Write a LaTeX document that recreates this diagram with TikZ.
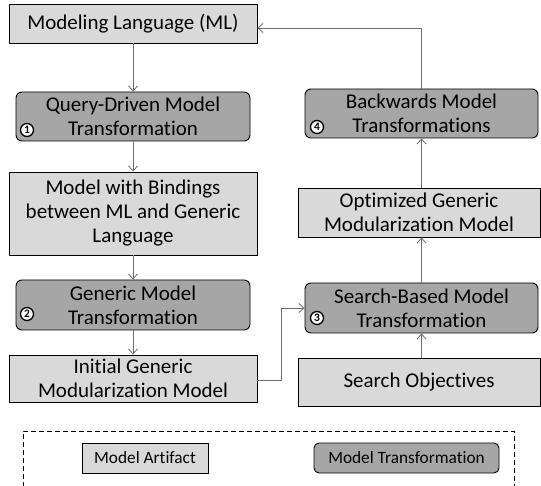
\documentclass[tikz,border=0pt]{standalone}
\usepackage{fontspec}
\setmainfont{Carlito}[Ligatures=CommonOff]
\usetikzlibrary{arrows.meta}
\definecolor{artgray}{HTML}{D9D9D9}
\definecolor{trgray}{HTML}{A6A6A6}
\definecolor{conngray}{HTML}{6E6E6E}
\begin{document}
\begin{tikzpicture}[x=1pt,y=-1pt,
  artifact/.style={draw=black, line width=0.9pt, fill=artgray, inner sep=0pt, align=center,
    font=\fontsize{21}{24}\selectfont},
  transf/.style={artifact, fill=trgray, rounded corners=6pt},
  conn/.style={draw=conngray, line width=0.8pt, -{Straight Barb[length=5pt,width=9pt]}},
  num/.style={circle, draw=black, line width=1.3pt, fill=white, inner sep=0pt, minimum size=13pt,
    font=\bfseries\fontsize{11.5}{11.5}\selectfont},
  legtext/.style={font=\fontsize{17.3}{20}\selectfont}
]
\useasboundingbox (0,0) rectangle (541,486);
% left column
\node[artifact, minimum width=248pt, minimum height=39pt] (ml) at (133,23.5) {Modeling Language (ML)};
\node[transf, minimum width=234pt, minimum height=49pt] (qd) at (133,116.5) {Query-Driven Model\\Transformation};
\node[artifact, minimum width=248pt, minimum height=83pt] (mwb) at (133,213.5) {Model with Bindings\\between ML and Generic\\Language};
\node[transf, minimum width=234pt, minimum height=50pt] (gmt) at (133,305) {Generic Model\\Transformation};
\node[artifact, minimum width=248pt, minimum height=47pt] (init) at (133,378.5) {Initial Generic\\Modularization Model};
% right column
\node[transf, minimum width=233pt, minimum height=49pt] (bw) at (421.5,113.5) {Backwards Model\\Transformations};
\node[artifact, minimum width=242pt, minimum height=49pt] (opt) at (419,212.5) {Optimized Generic\\Modularization Model};
\node[transf, minimum width=233pt, minimum height=50pt] (sb) at (421.5,308) {Search-Based Model\\Transformation};
\node[artifact, minimum width=242pt, minimum height=48pt] (so) at (419,382) {Search Objectives};
% numbers
\node[num] (n1) at (27,130) {1};
\node[num] (n2) at (27,314) {2};
\node[num] (n3) at (317,318) {3};
\node[num] (n4) at (317,127) {4};
% connectors
\draw[conn] (ml.south) -- (qd.north);
\draw[conn] (qd.south) -- (mwb.north);
\draw[conn] (mwb.south) -- (gmt.north);
\draw[conn] (gmt.south) -- (init.north);
\coordinate (c1) at (281,380);
\coordinate (c2) at (281,308);
\draw[conn] (init.east |- c1) -- (c1) -- (c2) -- (sb.west);
\draw[conn] (so.north -| sb.south) -- (sb.south);
\draw[conn] (sb.north) -- (opt.south -| sb.north);
\draw[conn] (opt.north -| bw.south) -- (bw.south);
\coordinate (c3) at (421.5,28);
\draw[conn] (bw.north) -- (c3) -- (ml.east |- c3);
% legend
\coordinate (d1) at (23,495);
\coordinate (d2) at (23,431);
\coordinate (d3) at (514,431);
\coordinate (d4) at (514,495);
\draw[line width=0.9pt, dash pattern=on 5pt off 3pt] (d1) -- (d2) -- (d3) -- (d4);
\node[artifact, legtext, minimum width=126pt, minimum height=30pt] (la) at (145,458) {Model Artifact};
\node[transf, legtext, rounded corners=5pt, minimum width=185pt, minimum height=30pt] (lt) at (406.5,458) {Model Transformation};
\end{tikzpicture}
\end{document}
